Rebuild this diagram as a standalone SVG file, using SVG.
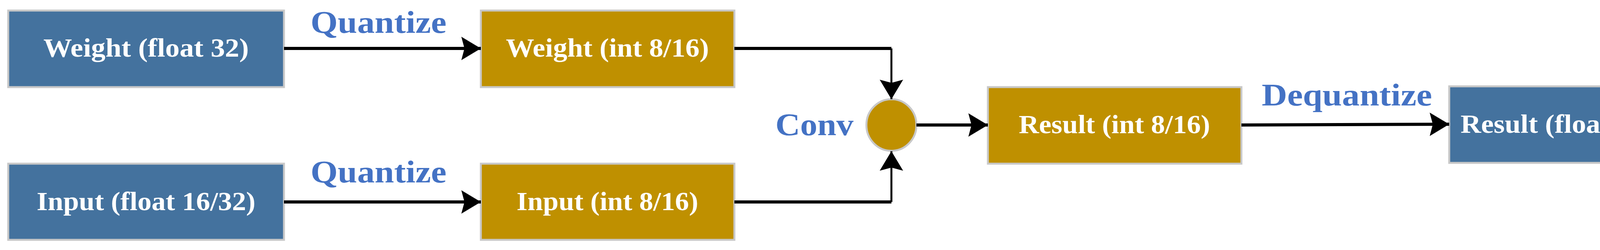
<svg xmlns="http://www.w3.org/2000/svg" width="4378" height="640" viewBox="0 0 4378 640">
<style>
.b{fill:#44729E;stroke:#c8c8c8;stroke-width:5}
.g{fill:#BF9000;stroke:#c8c8c8;stroke-width:5}
.t{fill:#fff;font-family:"Liberation Serif",serif;font-weight:bold;font-size:68px;text-anchor:middle}
.l{fill:#4472C4;font-family:"Liberation Serif",serif;font-weight:bold;font-size:80px}
.c{fill:none;stroke:#000;stroke-width:8}
.v{fill:none;stroke:#000;stroke-width:5}
</style>
<defs>
<marker id="a" markerUnits="userSpaceOnUse" markerWidth="50" markerHeight="60" refX="50" refY="30" orient="auto"><path d="M0,0 L50,30 L0,60 L8,30 Z" fill="#000"/></marker>
</defs>
<g id="n1"><rect class="b" x="21" y="27" width="706" height="196"/><text class="t" x="374" y="145" textLength="526" lengthAdjust="spacingAndGlyphs">Weight (float 32)</text></g>
<g id="n2"><rect class="g" x="1231" y="27" width="649" height="196"/><text class="t" x="1555" y="145" textLength="520" lengthAdjust="spacingAndGlyphs">Weight (int 8/16)</text></g>
<g id="n3"><rect class="b" x="21" y="419" width="706" height="195"/><text class="t" x="374" y="538" textLength="560" lengthAdjust="spacingAndGlyphs">Input (float 16/32)</text></g>
<g id="n4"><rect class="g" x="1231" y="419" width="649" height="195"/><text class="t" x="1555" y="538" textLength="465" lengthAdjust="spacingAndGlyphs">Input (int 8/16)</text></g>
<g id="n5"><ellipse class="g" cx="2282" cy="320" rx="64" ry="66"/></g>
<g id="n6"><rect class="g" x="2529" y="223" width="649" height="196"/><text class="t" x="2853" y="341" textLength="490" lengthAdjust="spacingAndGlyphs">Result (int 8/16)</text></g>
<g id="n7"><rect class="b" x="3710" y="221" width="649" height="196"/><text class="t" x="4034" y="340" textLength="590" lengthAdjust="spacingAndGlyphs">Result (float 16/32)</text></g>
<g id="labels">
<text class="l" x="795" y="84" textLength="348" lengthAdjust="spacingAndGlyphs">Quantize</text>
<text class="l" x="795" y="467" textLength="348" lengthAdjust="spacingAndGlyphs">Quantize</text>
<text class="l" x="1985" y="346" textLength="200" lengthAdjust="spacingAndGlyphs">Conv</text>
<text class="l" x="3230" y="270" textLength="436" lengthAdjust="spacingAndGlyphs">Dequantize</text>
</g>
<g id="connectors">
<line class="c" x1="727" y1="124" x2="1231" y2="124" marker-end="url(#a)"/>
<line class="c" x1="727" y1="517" x2="1231" y2="517" marker-end="url(#a)"/>
<polyline class="c" points="1880,124 2282,124"/>
<line class="v" x1="2282" y1="124" x2="2282" y2="254" marker-end="url(#a)"/>
<polyline class="c" points="1880,517 2282,517"/>
<line class="v" x1="2282" y1="517" x2="2282" y2="387" marker-end="url(#a)"/>
<line class="c" x1="2346" y1="320" x2="2529" y2="320" marker-end="url(#a)"/>
<line class="c" x1="3178" y1="320" x2="3710" y2="318" marker-end="url(#a)"/>
</g>
</svg>
